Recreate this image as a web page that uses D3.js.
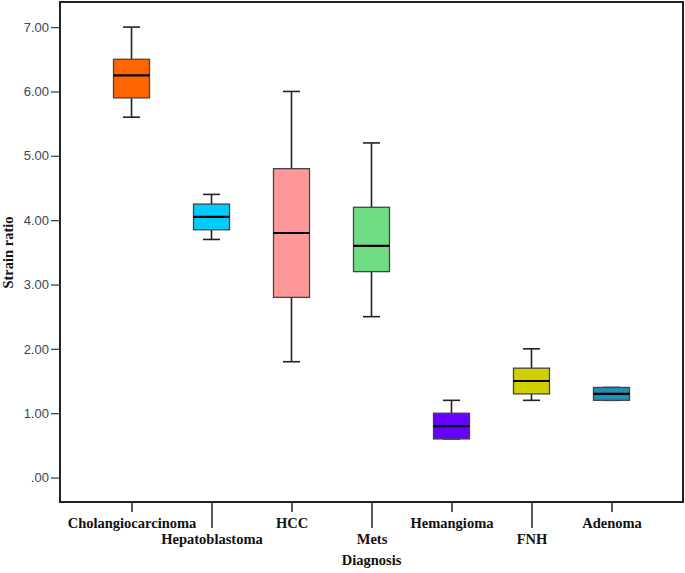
<!DOCTYPE html>
<html><head><meta charset="utf-8">
<script src="https://cdn.jsdelivr.net/npm/d3@7"></script>
<style>body{margin:0;background:#fff}svg{display:block}</style>
</head><body>
<svg id="c" width="685" height="573"></svg>
<script>
const categories = ["Cholangiocarcinoma","Hepatoblastoma","HCC","Mets","Hemangioma","FNH","Adenoma"];
const whiskerLow  = [5.6, 3.7, 1.8, 2.5, 0.6, 1.2, 1.2];
const q1          = [5.9, 3.85, 2.8, 3.2, 0.6, 1.3, 1.2];
const median      = [6.25, 4.05, 3.8, 3.6, 0.8, 1.5, 1.3];
const q3          = [6.5, 4.25, 4.8, 4.2, 1.0, 1.7, 1.4];
const whiskerHigh = [7.0, 4.4, 6.0, 5.2, 1.2, 2.0, 1.4];
const colors = ["#ff6600","#00ccff","#ff9999","#70dc84","#6600ff","#d0d000","#2190b5"];
const yTicks = [0,1,2,3,4,5,6,7];
const xTitle = "Diagnosis", yTitle = "Strain ratio";

const svg = d3.select("#c");
const L = 60, R = 683, T = 2, B = 502;
const x = d3.scalePoint().domain(categories).range([L, R]).padding(0.894);
const y = d3.scaleLinear().domain([-0.38, 7.39]).range([B, T]);

const boxW = 36, capW = 17;
const g = svg.append("g");
categories.forEach((c, i) => {
  const cx = x(c);
  // whiskers
  g.append("line").attr("x1", cx).attr("x2", cx).attr("y1", y(whiskerHigh[i])).attr("y2", y(q3[i]))
    .attr("stroke", "#222").attr("stroke-width", 1.6);
  g.append("line").attr("x1", cx).attr("x2", cx).attr("y1", y(whiskerLow[i])).attr("y2", y(q1[i]))
    .attr("stroke", "#222").attr("stroke-width", 1.6);
  g.append("line").attr("x1", cx - capW/2).attr("x2", cx + capW/2).attr("y1", y(whiskerHigh[i])).attr("y2", y(whiskerHigh[i]))
    .attr("stroke", "#222").attr("stroke-width", 1.6);
  g.append("line").attr("x1", cx - capW/2).attr("x2", cx + capW/2).attr("y1", y(whiskerLow[i])).attr("y2", y(whiskerLow[i]))
    .attr("stroke", "#222").attr("stroke-width", 1.6);
  // box
  g.append("rect").attr("x", cx - boxW/2).attr("width", boxW)
    .attr("y", y(q3[i])).attr("height", y(q1[i]) - y(q3[i]))
    .attr("fill", colors[i]).attr("stroke", "#444").attr("stroke-width", 1.3);
  // median
  g.append("line").attr("x1", cx - boxW/2).attr("x2", cx + boxW/2).attr("y1", y(median[i])).attr("y2", y(median[i]))
    .attr("stroke", "#000").attr("stroke-width", 2.2);
});

// frame
svg.append("rect").attr("x", L).attr("y", T).attr("width", R - L).attr("height", B - T)
  .attr("fill", "none").attr("stroke", "#222").attr("stroke-width", 2);

// y axis
const ya = svg.append("g").attr("transform", `translate(${L},0)`)
  .call(d3.axisLeft(y).tickValues(yTicks).tickSize(9).tickPadding(2)
    .tickFormat(d => d === 0 ? ".00" : d.toFixed(2)));
ya.select(".domain").remove();
ya.selectAll(".tick line").attr("stroke", "#444").attr("stroke-width", 1.3);
ya.selectAll(".tick text").attr("fill", "#444").style("font-family", "'Liberation Sans', Arial, sans-serif").style("font-size", "13px");

// x axis
const xa = svg.append("g").attr("transform", `translate(0,${B})`)
  .call(d3.axisBottom(x).tickSize(10).tickPadding(0));
xa.select(".domain").remove();
xa.selectAll(".tick line").attr("stroke", "#333").attr("stroke-width", 1.6)
  .attr("y2", (d, i) => i % 2 === 0 ? 10 : 26);
xa.selectAll(".tick text").attr("fill", "#111")
  .style("font-family", "'Liberation Serif', 'Times New Roman', serif")
  .style("font-size", "14.5px").style("font-weight", "bold")
  .attr("dy", null)
  .attr("y", (d, i) => i % 2 === 0 ? 25.5 : 42);

// titles
svg.append("text").attr("x", x("Mets")).attr("y", 565).attr("text-anchor", "middle")
  .style("font-family", "'Liberation Serif', 'Times New Roman', serif").style("font-size", "14.5px").style("font-weight", "bold")
  .attr("fill", "#111").text(xTitle);
svg.append("text").attr("transform", `translate(12.5,${252.5}) rotate(-90)`).attr("text-anchor", "middle")
  .style("font-family", "'Liberation Serif', 'Times New Roman', serif").style("font-size", "14.5px").style("font-weight", "bold")
  .attr("fill", "#111").text(yTitle);
</script>
</body></html>
